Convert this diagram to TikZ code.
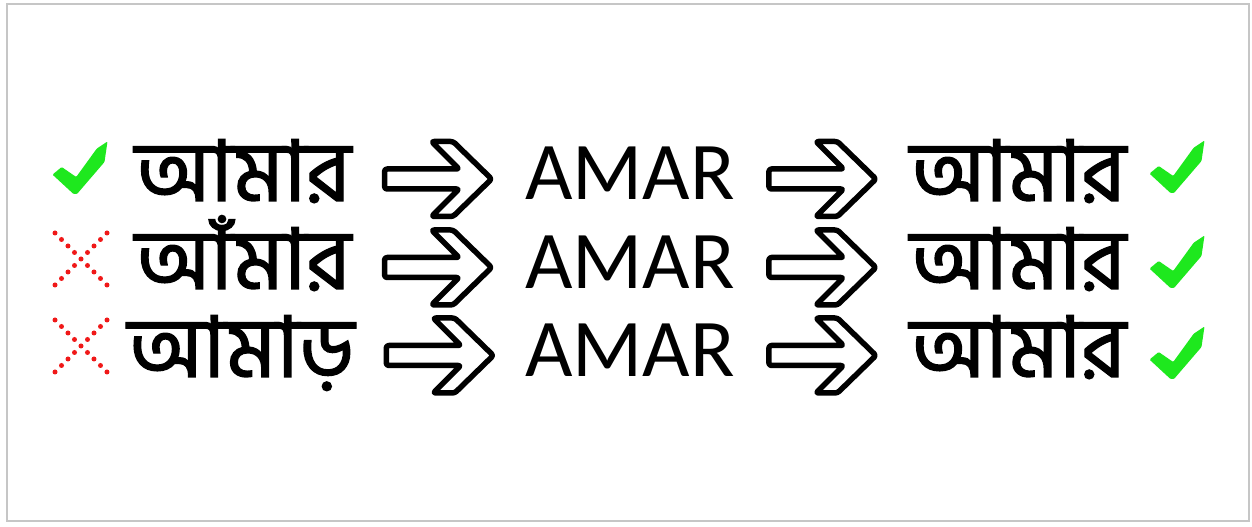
\documentclass[tikz,border=0pt]{standalone}
\usepackage{fontspec}
\setmainfont{Carlito}
\newfontfamily\bnfont[Script=Bengali, FakeBold=1.6]{Hind Siliguri}
\usetikzlibrary{calc}
\definecolor{okgreen}{RGB}{30,232,30}
\definecolor{badred}{RGB}{240,24,24}

\tikzset{
  okmark/.pic = {\fill[okgreen, rounded corners=1bp] (-1.5,1) -- (-22.5,-18.4) -- (-13.3,-26) -- (1.2,-16) -- (21.7,-44.3) -- (32.5,-51.5) -- (29.5,-31) -- (2,1) -- cycle;},
  badmark/.pic = {\draw[badred, line width=5bp, line cap=round, dash pattern=on 0pt off 9.19bp] (-26,-26) -- (26,26) (26,-26) -- (-26,26);},
  fatarrow/.pic = {\draw[line width=5.5bp, rounded corners=2.5bp, line join=round] (-53.5,-10) -- (21,-10) -- (-6.5,-37.5) -- (15,-37.5) -- (53.5,0) -- (15,37.5) -- (-6.5,37.5) -- (21,10) -- (-53.5,10) -- cycle;}
}

\begin{document}
\begin{tikzpicture}[x=1bp, y=-1bp,
  word/.style = {inner sep=0pt, anchor=base, font=\bnfont\fontsize{85bp}{90bp}\selectfont},
  latin/.style = {inner sep=0pt, anchor=base, font=\fontsize{82bp}{90bp}\selectfont}]
\useasboundingbox (0,0) rectangle (1252,527);
\fill[white] (0,0) rectangle (1252,527);
\draw[gray!45, line width=2bp] (7,4) rectangle (1249,521);

% words
\node[word] (l1) at (243,201) {আমার};
\node[latin] (m1) at (630,200) {AMAR};
\node[word] (r1) at (1018,201) {আমার};
\node[word] (l2) at (243,289) {আঁমার};
\node[latin] (m2) at (630,289) {AMAR};
\node[word] (r2) at (1018,289) {আমার};
\node[word] (l3) at (241,377) {আমাড়};
\node[latin] (m3) at (630,377) {AMAR};
\node[word] (r3) at (1018,377) {আমার};

% arrows between the words
\pic at ($(l1.base east)!.5!(m1.base west)+(0,-21.5)$) {fatarrow};
\pic at ($(m1.base east)!.5!(r1.base west)+(0,-21.5)$) {fatarrow};
\pic at ($(l2.base east)!.5!(m2.base west)+(0,-21.5)$) {fatarrow};
\pic at ($(m2.base east)!.5!(r2.base west)+(0,-21.5)$) {fatarrow};
\pic at ($(l3.base east)!.5!(m3.base west)+(0,-21.5)$) {fatarrow};
\pic at ($(m3.base east)!.5!(r3.base west)+(0,-21.5)$) {fatarrow};

% marks
\pic at (75,193) {okmark};
\pic at (81,259) {badmark};
\pic at (81,346) {badmark};
\pic at (1172,192) {okmark};
\pic at (1172,287) {okmark};
\pic at (1172,378) {okmark};
\end{tikzpicture}
\end{document}
